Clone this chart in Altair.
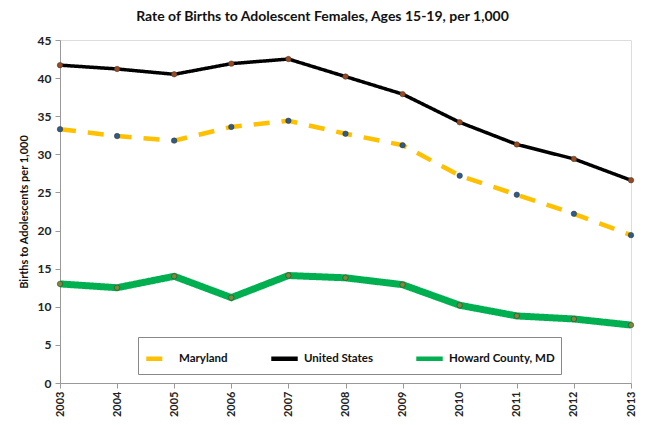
import altair as alt
import pandas as pd

years = [2003, 2004, 2005, 2006, 2007, 2008, 2009, 2010, 2011, 2012, 2013]
maryland = [33.3, 32.4, 31.8, 33.6, 34.4, 32.7, 31.2, 27.2, 24.7, 22.2, 19.4]
united_states = [41.7, 41.2, 40.5, 41.9, 42.5, 40.2, 37.9, 34.2, 31.3, 29.4, 26.6]
howard = [13.0, 12.5, 14.0, 11.2, 14.1, 13.8, 12.9, 10.2, 8.8, 8.4, 7.6]
series_names = ["Maryland", "United States", "Howard County, MD"]
line_widths = [4.5, 3.5, 7]
y_ticks = [0, 5, 10, 15, 20, 25, 30, 35, 40, 45]

rows = []
for name, w, vals in zip(series_names, line_widths, [maryland, united_states, howard]):
    for yr, v in zip(years, vals):
        rows.append({"Year": yr, "Rate": v, "Series": name, "W": w})
df = pd.DataFrame(rows)

FONT = "Lato"

x = alt.X("Year:Q", scale=alt.Scale(domain=[2003, 2013], nice=False, zero=False),
          axis=alt.Axis(values=years, format="d", labelAngle=-90, title=None,
                        grid=False, domainColor="#999999", tickColor="#999999",
                        labelFont=FONT, labelFontWeight="bold", labelFontSize=11,
                        labelColor="#222222", tickSize=5, labelPadding=3))
y = alt.Y("Rate:Q", scale=alt.Scale(domain=[0, 45], nice=False),
          axis=alt.Axis(values=y_ticks, title="Births to Adolescents per 1,000",
                        grid=False, domainColor="#999999", tickColor="#999999",
                        labelFont=FONT, labelFontWeight="bold", labelFontSize=12,
                        labelColor="#222222", titleFont=FONT, titleFontWeight="bold",
                        titleFontSize=11, titleColor="#111111", tickSize=5,
                        titlePadding=8, labelPadding=4))

legend = alt.Legend(title=None, orient="none", legendX=78, legendY=297,
                    direction="horizontal", strokeColor="#888888", padding=6,
                    symbolType="stroke", symbolSize=700, symbolStrokeWidth=4.5,
                    columnPadding=34,
                    labelFont=FONT, labelFontWeight="bold", labelFontSize=11.5,
                    labelColor="#111111", fillColor="white")

lines = alt.Chart(df).mark_line().encode(
    x=x, y=y,
    color=alt.Color("Series:N", scale=alt.Scale(domain=series_names,
                    range=["#FFC000", "#000000", "#00B050"]), legend=legend),
    strokeDash=alt.StrokeDash("Series:N", scale=alt.Scale(domain=series_names,
                    range=[[16, 12], [1, 0], [1, 0]]), legend=legend),
    strokeWidth=alt.StrokeWidth("W:Q", scale=None, legend=None),
)

points = alt.Chart(df).mark_point(filled=True, size=30, opacity=1).encode(
    x=x, y=y,
    fill=alt.Fill("Series:N", scale=alt.Scale(domain=series_names,
                  range=["#2E5C8A", "#9A4A1E", "#7A8A3A"]), legend=None),
    stroke=alt.value("#333333"), strokeWidth=alt.value(0.5),
)

chart = alt.layer(lines, points).properties(
    width=571, height=343,
    title=alt.Title("Rate of Births to Adolescent Females, Ages 15-19, per 1,000",
                    font=FONT, fontSize=14, fontWeight="bold", color="#111111",
                    anchor="middle", dx=-23, offset=10),
    autosize=alt.AutoSizeParams(type="none"),
    padding={"left": 52, "top": 32, "right": 6, "bottom": 42},
).configure_view(stroke=None).configure(background="white")

chart.save("out.html", embed_options={"renderer": "svg", "actions": False})
